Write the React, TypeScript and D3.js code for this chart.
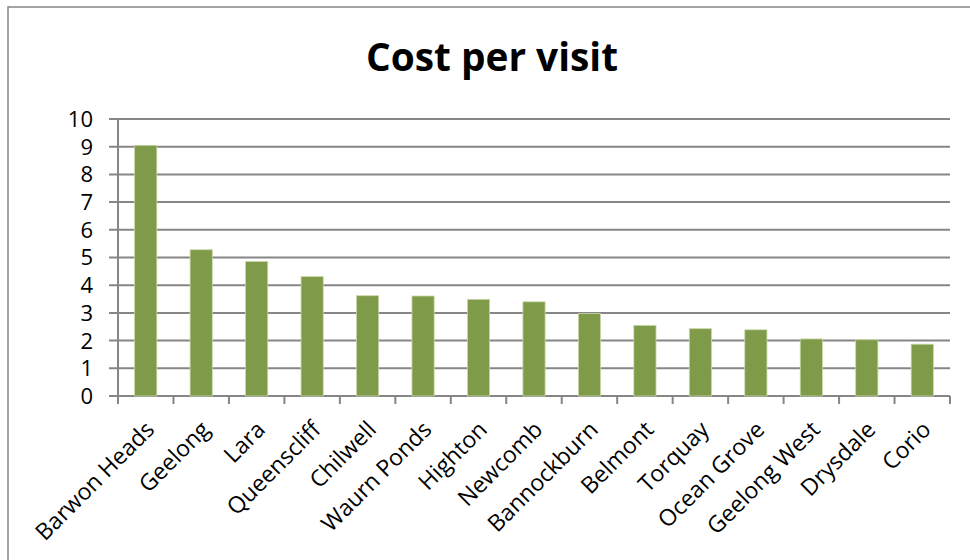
import React from "react";
import * as d3 from "d3";

const categories = ["Barwon Heads","Geelong","Lara","Queenscliff","Chilwell","Waurn Ponds","Highton","Newcomb","Bannockburn","Belmont","Torquay","Ocean Grove","Geelong West","Drysdale","Corio"];
const values = [9.05,5.28,4.86,4.31,3.62,3.61,3.49,3.40,2.98,2.55,2.43,2.39,2.06,2.03,1.87];
const yTicks = [0,1,2,3,4,5,6,7,8,9,10];
const title = "Cost per visit";

const W = 970, H = 560;
const plot = { left: 118, right: 950, top: 119, bottom: 396 };
const gridColor = "#868686";
const font = "'Open Sans', 'Noto Sans', sans-serif";

export default function App() {
  const x = d3.scaleBand<string>().domain(categories).range([plot.left, plot.right]).paddingInner(0.6).paddingOuter(0.3);
  const xb = d3.scaleLinear().domain([0, categories.length]).range([plot.left, plot.right]);
  const y = d3.scaleLinear().domain([0, 10]).range([plot.bottom, plot.top]);

  return (
    <svg width={W} height={H} style={{ position: "absolute", left: 0, top: 0, background: "#fff" }}>
      <rect x={8} y={7} width={1200} height={800} fill="#fff" stroke={gridColor} strokeWidth={1.5} />
      <text x={492} y={71} textAnchor="middle" fontFamily={font} fontWeight={700} fontSize={39} textLength={252} lengthAdjust="spacingAndGlyphs" fill="#000">{title}</text>
      {yTicks.map((t) => (
        <g key={t}>
          <line x1={plot.left - 9} x2={plot.right} y1={y(t)} y2={y(t)} stroke={gridColor} strokeWidth={2} />
          <text x={93} y={y(t)} dy="0.36em" textAnchor="end" fontFamily={font} fontSize={22} fill="#000">{t}</text>
        </g>
      ))}
      <line x1={plot.left} x2={plot.left} y1={plot.top} y2={plot.bottom + 8} stroke={gridColor} strokeWidth={2} />
      {d3.range(categories.length + 1).map((i) => (
        <line key={i} x1={xb(i)} x2={xb(i)} y1={plot.bottom} y2={plot.bottom + 8} stroke={gridColor} strokeWidth={2} />
      ))}
      {categories.map((c, i) => (
        <rect key={c} x={x(c)} y={y(values[i])} width={x.bandwidth()} height={y(0) - y(values[i])} fill="#7F9A48" stroke="#C9D9A8" strokeWidth={0.8} />
      ))}
      {categories.map((c) => {
        const cx = (x(c) as number) + x.bandwidth() / 2;
        const ax = cx + 10, ay = 431;
        return (
          <text key={c} x={ax} y={ay} textAnchor="end" transform={`rotate(-45 ${ax} ${ay})`} fontFamily={font} fontSize={23} fill="#000">{c}</text>
        );
      })}
    </svg>
  );
}
